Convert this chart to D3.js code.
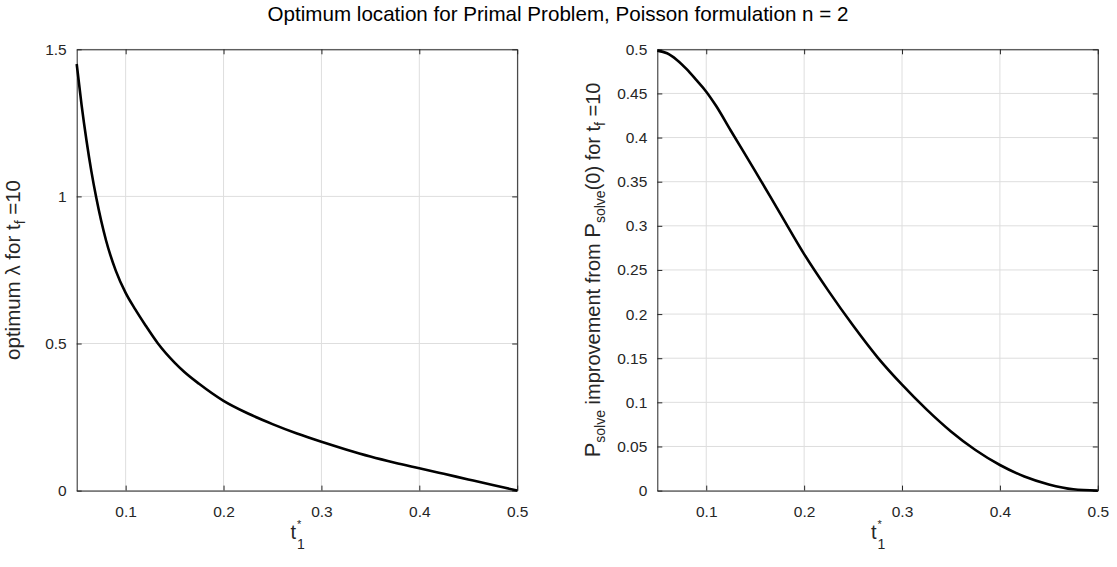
<!DOCTYPE html>
<html>
<head>
<meta charset="utf-8">
<script src="https://cdn.jsdelivr.net/npm/d3@7"></script>
<style>
body{margin:0;background:#fff;}
text{font-family:"Liberation Sans",Arial,Helvetica,sans-serif;}
</style>
</head>
<body>
<div id="chart"></div>
<script>
// values
const tLeft=[0.05,0.055,0.06,0.065,0.07,0.08,0.09,0.1,0.11,0.12,0.133,0.15,0.16,0.175,0.2,0.225,0.25,0.275,0.3,0.325,0.35,0.375,0.4,0.425,0.45,0.475,0.5]
const lambdaOpt=[1.45,1.31,1.19,1.085,0.995,0.85,0.747,0.672,0.615,0.563,0.5,0.435,0.403,0.363,0.305,0.262,0.226,0.194,0.166,0.14,0.116,0.095,0.076,0.057,0.038,0.019,0]
const tRight=[0.05,0.06,0.07,0.08,0.09,0.1,0.11,0.125,0.15,0.175,0.2,0.225,0.25,0.275,0.3,0.325,0.35,0.375,0.4,0.425,0.45,0.475,0.5]
const pImprove=[0.4985,0.4955,0.488,0.4775,0.465,0.452,0.436,0.408,0.362,0.315,0.268,0.226,0.187,0.151,0.12,0.092,0.067,0.046,0.029,0.016,0.007,0.0015,0]
const xTicks=[0.1,0.2,0.3,0.4,0.5]
const yTicksLeft=[0,0.5,1,1.5]
const yTicksRight=[0,0.05,0.1,0.15,0.2,0.25,0.3,0.35,0.4,0.45,0.5]

const W=1117,H=567
const svg=d3.select('#chart').append('svg')
	.attr('width',W)
	.attr('height',H)

svg.append('text')
	.attr('x',558).attr('y',21)
	.attr('text-anchor','middle')
	.attr('font-size',20.6)
	.attr('fill','#000')
	.text('Optimum location for Primal Problem, Poisson formulation n = 2')

const axCol='#262626'

function panel(left,xs,ys,yDomain,yTicks,ylabel){
	const top=49.3,w=440.5,h=441.3
	const g=svg.append('g').attr('transform',`translate(${left},${top})`)
	const x=d3.scaleLinear().domain([0.05,0.5]).range([0,w])
	const y=d3.scaleLinear().domain(yDomain).range([h,0])

	// grid
	g.append('g').selectAll('line').data(xTicks).join('line')
		.attr('x1',d=>x(d)).attr('x2',d=>x(d)).attr('y1',0).attr('y2',h)
		.attr('stroke','#dedede').attr('stroke-width',1)
	g.append('g').selectAll('line').data(yTicks).join('line')
		.attr('y1',d=>y(d)).attr('y2',d=>y(d)).attr('x1',0).attr('x2',w)
		.attr('stroke','#dedede').attr('stroke-width',1)

	// axes, ticks pointing in
	const xAx=g.append('g').attr('transform',`translate(0,${h})`)
		.call(d3.axisBottom(x).tickValues(xTicks).tickSizeInner(-5).tickSizeOuter(0).tickPadding(15).tickFormat(d3.format('.1f')))
	const xTop=g.append('g')
		.call(d3.axisTop(x).tickValues(xTicks).tickSizeInner(-5).tickSizeOuter(0).tickFormat(''))
	const yAx=g.append('g')
		.call(d3.axisLeft(y).tickValues(yTicks).tickSizeInner(-5).tickSizeOuter(0).tickPadding(10).tickFormat(d3.format('~g')))
	const yRight=g.append('g').attr('transform',`translate(${w},0)`)
		.call(d3.axisRight(y).tickValues(yTicks).tickSizeInner(-5).tickSizeOuter(0).tickFormat(''))
	;[xAx,xTop,yAx,yRight].forEach(a=>{
		a.attr('font-size',15.5).attr('font-family','"Liberation Sans",Arial,sans-serif')
		a.select('.domain').attr('stroke',axCol).attr('stroke-width',1)
		a.selectAll('.tick line').attr('stroke',axCol)
		a.selectAll('.tick text').attr('fill',axCol)
	})

	const line=d3.line()
		.x(d=>x(d[0]))
		.y(d=>y(d[1]))
		.curve(d3.curveMonotoneX)
	g.append('path')
		.datum(d3.zip(xs,ys))
		.attr('d',line)
		.attr('fill','none')
		.attr('stroke','#000')
		.attr('stroke-width',2.6)

	// x label t_1^*
	const cx=w/2
	g.append('text').attr('x',cx-1).attr('y',h+48)
		.attr('text-anchor','end').attr('font-size',20).attr('fill',axCol).text('t')
	g.append('text').attr('x',cx).attr('y',h+37)
		.attr('font-size',11).attr('fill',axCol).text('*')
	g.append('text').attr('x',cx).attr('y',h+58)
		.attr('font-size',14).attr('fill',axCol).text('1')

	ylabel(g,h)
}

panel(76.7,tLeft,lambdaOpt,[0,1.5],yTicksLeft,(g,h)=>{
	const t=g.append('text')
		.attr('transform',`translate(-57,${h/2}) rotate(-90)`)
		.attr('text-anchor','middle')
		.attr('font-size',20.5)
		.attr('fill',axCol)
	t.append('tspan').text('optimum λ for t')
	t.append('tspan').attr('font-size',14).attr('dy',5).text('f')
	t.append('tspan').attr('dy',-5).text(' =10')
})

panel(657.3,tRight,pImprove,[0,0.5],yTicksRight,(g,h)=>{
	const t=g.append('text')
		.attr('transform',`translate(-57,${h/2}) rotate(-90)`)
		.attr('text-anchor','middle')
		.attr('font-size',20)
		.attr('fill',axCol)
	t.append('tspan').attr('font-size',22).text('P')
	t.append('tspan').attr('font-size',14).attr('dy',5).text('solve')
	t.append('tspan').attr('dy',-5).text(' improvement from ')
	t.append('tspan').attr('font-size',22).text('P')
	t.append('tspan').attr('font-size',14).attr('dy',5).text('solve')
	t.append('tspan').attr('dy',-5).text('(0) for t')
	t.append('tspan').attr('font-size',14).attr('dy',5).text('f')
	t.append('tspan').attr('dy',-5).text(' =10')
})
</script>
</body>
</html>
